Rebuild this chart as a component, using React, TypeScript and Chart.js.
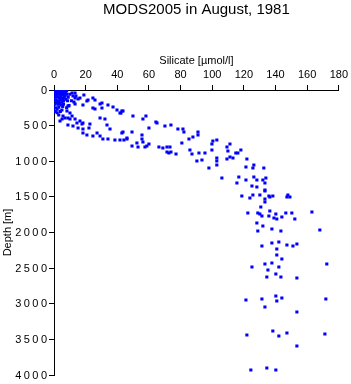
import React, { useEffect, useRef } from 'react';
import { Chart, registerables } from 'chart.js';

Chart.register(...registerables);

const chartTitle = 'MODS2005 in August, 1981';
const xAxisTitle = 'Silicate [µmol/l]';
const yAxisTitle = 'Depth [m]';
const xTickValues = [0, 20, 40, 60, 80, 100, 120, 140, 160, 180];
const yTickValues = [0, 500, 1000, 1500, 2000, 2500, 3000, 3500, 4000];

// [silicate µmol/l, depth m]
const surfaceCluster: [number, number][] = [
  [0.5, 0], [1, 5], [2, 10], [3, 0], [4, 5], [5, 0], [6, 10], [7, 0], [8, 5],
  [1.5, 20], [2.5, 30], [3.5, 25], [4.5, 40], [5.5, 20], [6.5, 35], [7.5, 30],
  [1, 50], [2, 60], [3, 55], [4, 70], [5, 50], [6, 65], [7, 80], [8, 60],
  [1.5, 90], [2.5, 100], [3.5, 110], [4.5, 95], [5.5, 120], [6.5, 105], [7.5, 130],
  [1, 140], [2, 150], [3, 160], [4, 140], [5, 170], [6, 155], [8.5, 150],
  [1.5, 180], [2.5, 200], [3.5, 190], [4.5, 210], [5.5, 230], [1, 250], [2, 270],
  [3, 240], [6, 200], [9, 100], [10, 60], [11, 150], [9.5, 220], [8, 250],
  [4, 300], [2, 320], [3, 350], [5, 280], [1, 100], [0.5, 200], [0.8, 300],
  [11.4, 42], [12, 84], [13.3, 112], [15.2, 126], [12.6, 168], [8.8, 225],
  [8.2, 295], [10.1, 323], [5.7, 365], [8.8, 393], [11.4, 365], [13.3, 407],
  [14.5, 463], [17.7, 477], [3.8, 435],
];

const upperBranch: [number, number][] = [
  [13.3, 42], [13.9, 84], [16.4, 112], [18.9, 70], [21.5, 140], [20.8, 154],
  [24.6, 112], [25.9, 140], [30.3, 182], [29.1, 196], [13.3, 196], [18.3, 211],
  [24.6, 253], [25.9, 267], [30.3, 253], [34.1, 211], [37.3, 239], [39.8, 281],
  [42.9, 295], [41.7, 323], [32.2, 407], [29.1, 393], [43.6, 295], [42.3, 323],
  [49.9, 365], [58.1, 365], [56.2, 407], [64.4, 449], [65.1, 463], [60.0, 533],
  [70.1, 505], [73.9, 491], [78.3, 547], [81.5, 547], [82.1, 589], [91.0, 589],
  [91.0, 632], [87.8, 660], [85.3, 688], [80.8, 744], [99.8, 758], [100.4, 716],
  [102.9, 702], [111.2, 758], [109.3, 800], [109.9, 856], [99.8, 842], [114.9, 884],
  [116.2, 884], [118.1, 842], [113.1, 954], [111.2, 940], [109.3, 968], [121.9, 968],
  [121.3, 1081], [126.3, 1053], [125.7, 1095], [132.6, 1095],
];

const lowerBranch: [number, number][] = [
  [16.4, 435], [18.3, 463], [22.7, 477], [22.1, 533], [18.3, 547], [15.2, 533],
  [12.0, 505], [8.8, 491], [10.1, 407], [6.9, 393], [5.1, 407], [27.2, 603],
  [18.3, 603], [20.8, 632], [24.6, 646], [29.1, 646], [30.9, 688], [34.1, 688],
  [38.5, 702], [41.7, 702], [46.1, 688], [42.9, 603], [35.4, 547], [33.5, 491],
  [43.6, 589], [49.3, 589], [46.1, 674], [44.2, 702], [55.6, 632], [55.6, 688],
  [56.2, 730], [52.4, 744], [60.0, 758], [49.3, 786], [53.1, 800], [57.5, 800],
  [58.7, 786], [66.3, 800], [68.8, 814], [71.4, 800], [73.3, 800], [71.4, 870],
  [72.6, 884], [73.9, 870], [77.1, 898], [85.9, 842], [87.2, 898], [91.6, 884],
  [90.3, 996], [95.4, 884], [102.9, 954], [102.9, 996], [102.9, 1053], [93.5, 982],
  [97.9, 1095], [106.1, 1235],
];

const deepWater: [number, number][] = [
  [116.8, 1221], [115.6, 1305], [121.3, 1263], [126.3, 1221], [128.2, 1263],
  [132.0, 1263], [133.9, 1235], [133.3, 1305], [125.1, 1347], [128.2, 1361],
  [133.3, 1403], [118.7, 1488], [123.8, 1516], [125.7, 1474], [130.1, 1474],
  [133.3, 1530], [135.8, 1488], [122.5, 1726], [128.8, 1726], [131.4, 1768],
  [136.4, 1698], [133.3, 1418], [136.4, 1502], [138.3, 1488], [147.8, 1474],
  [149.1, 1502], [147.2, 1502], [133.3, 1572], [130.7, 1642], [135.8, 1768],
  [130.1, 1740], [140.2, 1740], [146.5, 1726], [150.3, 1726], [163.0, 1712],
  [139.0, 1796], [140.8, 1810], [144.0, 1782], [152.2, 1810], [128.2, 1867],
  [132.0, 1909], [137.7, 1951], [128.8, 1979], [143.4, 1979], [168.0, 1965],
  [131.4, 2189], [137.7, 2147], [142.1, 2133], [147.2, 2175], [151.0, 2189],
  [153.5, 2161], [140.8, 2232], [140.8, 2316], [144.0, 2372], [172.4, 2442],
  [125.1, 2484], [133.3, 2442], [137.7, 2428], [142.1, 2484], [135.2, 2526],
  [140.2, 2582], [134.5, 2624], [143.4, 2624], [153.5, 2638], [140.2, 2891],
  [144.0, 2919], [131.4, 2933], [121.3, 2947], [140.8, 2961], [171.8, 2933],
  [133.3, 3046], [153.5, 3116], [138.3, 3382], [147.2, 3410], [142.1, 3453],
  [121.9, 3439], [171.2, 3425], [153.5, 3593], [124.4, 3930], [134.5, 3902],
  [140.2, 3930],
];

const FONT = '"Liberation Sans", Arial, Helvetica, sans-serif';

const titlePlugin = {
  id: 'customTitle',
  afterDraw(chart: any) {
    const { ctx, chartArea } = chart;
    ctx.save();
    ctx.font = `15px ${FONT}`;
    ctx.fillStyle = '#000';
    ctx.textAlign = 'center';
    ctx.textBaseline = 'alphabetic';
    ctx.fillText(chartTitle, (chartArea.left + chartArea.right) / 2, 13.5);
    ctx.restore();
  },
};

const yLabelPlugin = {
  id: 'spacedYLabels',
  afterDraw(chart: any) {
    const { ctx } = chart;
    const scale = chart.scales.y;
    ctx.save();
    ctx.font = `11px ${FONT}`;
    (ctx as any).letterSpacing = '2.4px';
    ctx.fillStyle = '#000';
    ctx.textAlign = 'right';
    ctx.textBaseline = 'middle';
    scale.ticks.forEach((t: any) => {
      const y = scale.getPixelForValue(t.value);
      ctx.fillText(String(t.value), 47 + 2.4, y + 0.5);
    });
    ctx.restore();
  },
};

export default function App() {
  const ref = useRef<HTMLCanvasElement>(null);
  useEffect(() => {
    Chart.defaults.font.family = FONT;
    Chart.defaults.color = '#000';
    const points = [...surfaceCluster, ...upperBranch, ...lowerBranch, ...deepWater].map(
      ([x, y]) => ({ x, y })
    );
    const chart = new Chart(ref.current!, {
      type: 'scatter',
      data: {
        datasets: [
          {
            data: points,
            pointStyle: 'rect',
            pointRadius: 2.2,
            pointBorderWidth: 0,
            backgroundColor: '#0000ff',
            borderColor: '#0000ff',
          },
        ],
      },
      options: {
        animation: false,
        responsive: false,
        layout: { padding: { left: 0, right: 11, top: 50, bottom: 9 } },
        plugins: {
          legend: { display: false },
          tooltip: { enabled: false },
          title: { display: false },
        },
        scales: {
          x: {
            type: 'linear',
            position: 'top',
            min: 0,
            max: 180,
            afterBuildTicks: (s: any) => {
              s.ticks = xTickValues.map((v) => ({ value: v }));
            },
            afterFit: (s: any) => {
              s.height = 40;
            },
            ticks: { font: { size: 11 }, color: '#000', padding: 3, maxRotation: 0 },
            grid: { drawOnChartArea: false, drawTicks: true, tickLength: 5, color: '#000' },
            border: { display: true, color: '#000', width: 1 },
            title: { display: true, text: xAxisTitle, font: { size: 11 }, color: '#000', padding: { top: 4, bottom: 2 } },
          },
          y: {
            type: 'linear',
            reverse: true,
            min: 0,
            max: 4000,
            afterBuildTicks: (s: any) => {
              s.ticks = yTickValues.map((v) => ({ value: v }));
            },
            afterFit: (s: any) => {
              s.width = 54;
            },
            ticks: { font: { size: 11 }, color: 'rgba(0,0,0,0)', padding: 2 },
            grid: { drawOnChartArea: false, drawTicks: true, tickLength: 5, color: '#000' },
            border: { display: true, color: '#000', width: 1 },
            title: { display: true, text: yAxisTitle, font: { size: 11 }, color: '#000', padding: { top: 1, bottom: 0 } },
          },
        },
      },
      plugins: [titlePlugin, yLabelPlugin],
    });
    return () => chart.destroy();
  }, []);
  return (
    <div style={{ position: 'absolute', left: 0, top: 0, width: 351, height: 384, background: '#fff' }}>
      <canvas ref={ref} width={351} height={384} style={{ display: 'block' }} />
    </div>
  );
}
